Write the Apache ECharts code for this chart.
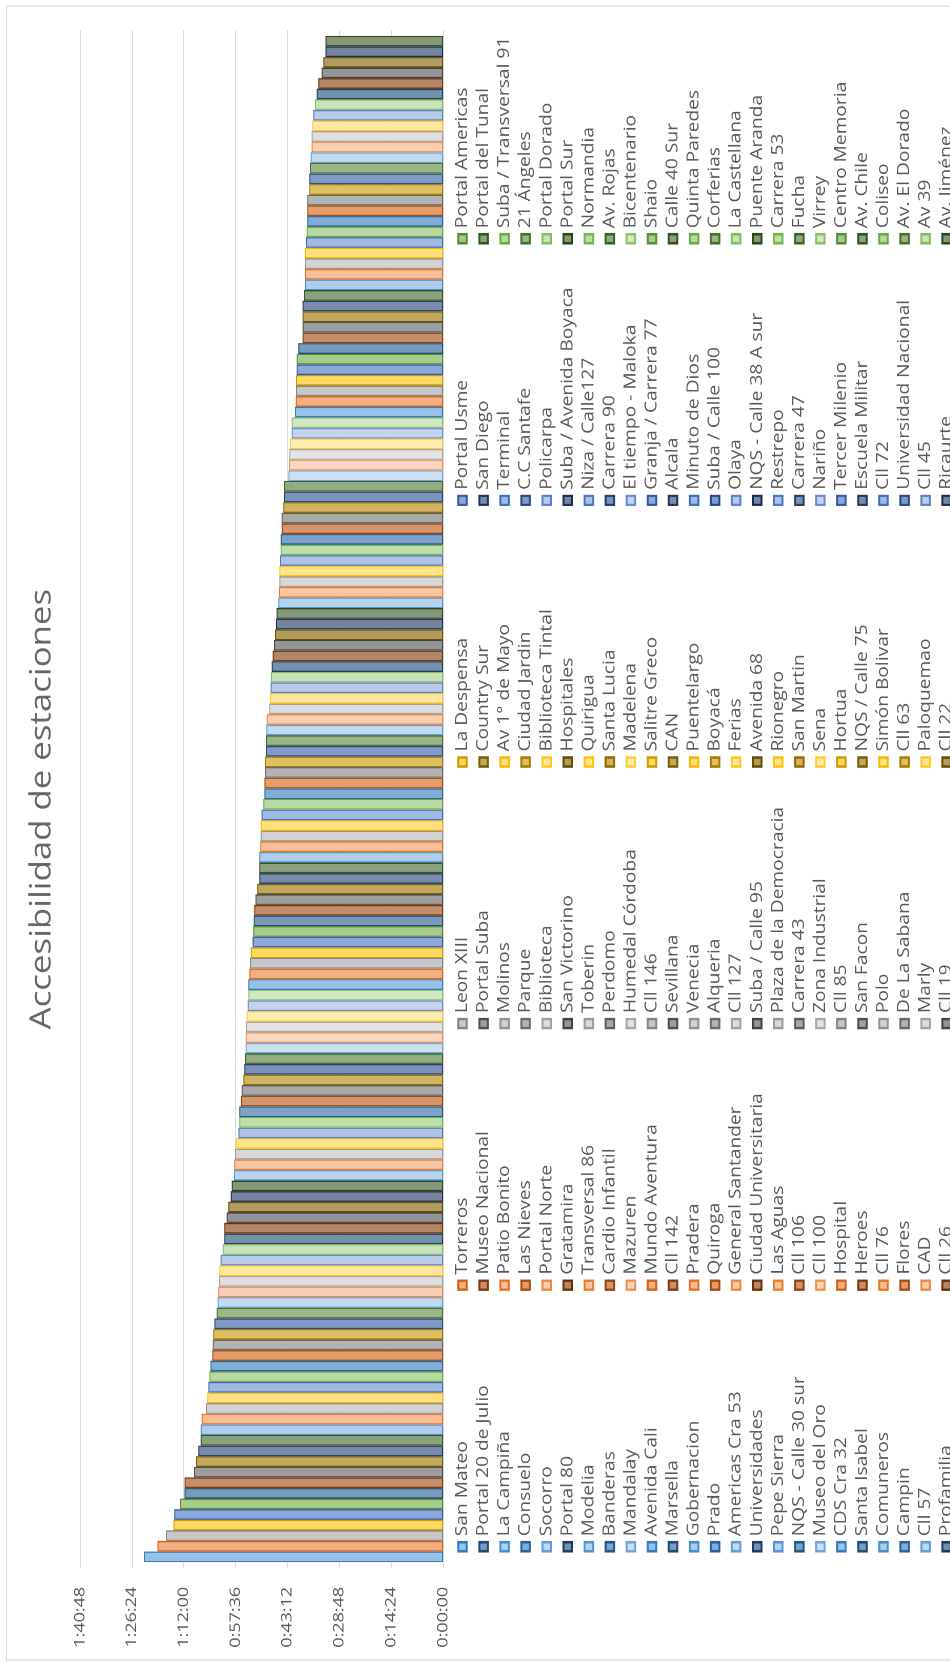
<!DOCTYPE html>
<html>
<head>
<meta charset="utf-8">
<script src="https://cdn.jsdelivr.net/npm/echarts@6/dist/echarts.min.js"></script>
<style>
  html, body { margin: 0; padding: 0; background: #fff; width: 950px; height: 1666px; overflow: hidden; }
  /* The column chart is laid out landscape, then turned a quarter turn so the
     title reads bottom-to-top along the left edge; the long side is stretched 1.2x. */
  #chart {
    position: absolute; left: 0; top: 0;
    width: 1388px; height: 950px;
    transform-origin: 0 0;
    transform: translateY(1666px) rotate(-90deg) scaleX(1.2);
  }
</style>
</head>
<body>
<div id="chart"></div>
<script>
// Legend columns (each column is read top to bottom; series order is row by row).
const legendCol1 = ['San Mateo','Portal 20 de Julio','La Campiña','Consuelo','Socorro','Portal 80','Modelia','Banderas','Mandalay','Avenida Cali','Marsella','Gobernacion','Prado','Americas Cra 53','Universidades','Pepe Sierra','NQS - Calle 30 sur','Museo del Oro','CDS Cra 32','Santa Isabel','Comuneros','Campin','Cll 57','Profamilia'];
const legendCol2 = ['Torreros','Museo Nacional','Patio Bonito','Las Nieves','Portal Norte','Gratamira','Transversal 86','Cardio Infantil','Mazuren','Mundo Aventura','Cll 142','Pradera','Quiroga','General Santander','Ciudad Universitaria','Las Aguas','Cll 106','Cll 100','Hospital','Heroes','Cll 76','Flores','CAD','Cll 26'];
const legendCol3 = ['Leon XIII','Portal Suba','Molinos','Parque','Biblioteca','San Victorino','Toberin','Perdomo','Humedal Córdoba','Cll 146','Sevillana','Venecia','Alqueria','Cll 127','Suba / Calle 95','Plaza de la Democracia','Carrera 43','Zona Industrial','Cll 85','San Facon','Polo','De La Sabana','Marly','Cll 19'];
const legendCol4 = ['La Despensa','Country Sur','Av 1° de Mayo','Ciudad Jardin','Biblioteca Tintal','Hospitales','Quirigua','Santa Lucia','Madelena','Salitre Greco','CAN','Puentelargo','Boyacá','Ferias','Avenida 68','Rionegro','San Martin','Sena','Hortua','NQS / Calle 75','Simón Bolivar','Cll 63','Paloquemao','Cll 22'];
const legendCol5 = ['Portal Usme','San Diego','Terminal','C.C Santafe','Policarpa','Suba / Avenida Boyaca','Niza / Calle127','Carrera 90','El tiempo - Maloka','Granja / Carrera 77','Alcala','Minuto de Dios','Suba / Calle 100','Olaya','NQS - Calle 38 A sur','Restrepo','Carrera 47','Nariño','Tercer Milenio','Escuela Militar','Cll 72','Universidad Nacional','Cll 45','Ricaurte'];
const legendCol6 = ['Portal Americas','Portal del Tunal','Suba / Transversal 91','21 Ángeles','Portal Dorado','Portal Sur','Normandia','Av. Rojas','Bicentenario','Shaio','Calle 40 Sur','Quinta Paredes','Corferias','La Castellana','Puente Aranda','Carrera 53','Fucha','Virrey','Centro Memoria','Av. Chile','Coliseo','Av. El Dorado','Av 39','Av. Jiménez'];

// Access time per station in seconds, in series order (San Mateo first).
const accessSeconds = [
  4982,4757,4615,4490,4477,4382,4307,4305,4149,4115,
  4077,4037,4037,4020,3949,3927,3910,3890,3874,3844,
  3837,3827,3810,3770,3754,3744,3732,3727,3704,3670,
  3644,3644,3604,3577,3537,3520,3482,3477,3465,3444,
  3410,3394,3394,3366,3354,3327,3311,3299,3287,3287,
  3282,3271,3254,3244,3244,3227,3216,3204,3171,3161,
  3154,3144,3124,3094,3061,3061,3061,3044,3037,3037,
  3021,2994,2977,2977,2966,2966,2949,2949,2944,2937,
  2894,2882,2871,2866,2854,2837,2816,2799,2782,2771,
  2744,2732,2727,2727,2716,2704,2704,2687,2687,2661,
  2649,2649,2577,2566,2561,2549,2521,2521,2466,2454,
  2449,2449,2437,2437,2411,2338,2338,2338,2338,2316,
  2299,2299,2299,2299,2283,2271,2261,2261,2261,2228,
  2228,2216,2204,2188,2188,2178,2161,2133,2104,2078,
  2021,1994,1958,1958
];

// Value axis: 0:00:00 to 1:40:48 in steps of 0:14:24 (seconds).
const axisMin = 0;
const axisMax = 6048;
const axisStep = 864;

const chartTitle = 'Accesibilidad de estaciones';

const legendCols = [legendCol1, legendCol2, legendCol3, legendCol4, legendCol5, legendCol6];
// Series order: legend row by row, six per row.
const stations = [];
for (let r = 0; r < legendCol1.length; r++) {
  for (let c = 0; c < legendCols.length; c++) stations.push(legendCols[c][r]);
}

// Office theme accents and the luminance variations used for series beyond six.
const accents = ['#5B9BD5', '#ED7D31', '#A5A5A5', '#FFC000', '#4472C4', '#70AD47'];
const variations = [[1,0],[0.6,0],[0.8,0.2],[0.8,0],[0.6,0.4],[0.5,0],[0.7,0.3],[0.7,0],[0.5,0.5]];

function hexToRgb(hex) {
  const n = parseInt(hex.slice(1), 16);
  return [(n >> 16) & 255, (n >> 8) & 255, n & 255];
}
function rgbToHex(r, g, b) {
  return '#' + [r, g, b].map(v => Math.max(0, Math.min(255, Math.round(v))).toString(16).padStart(2, '0')).join('');
}
function rgbToHsl(r, g, b) {
  r /= 255; g /= 255; b /= 255;
  const max = Math.max(r, g, b), min = Math.min(r, g, b);
  let h = 0, s = 0; const l = (max + min) / 2;
  if (max !== min) {
    const d = max - min;
    s = l > 0.5 ? d / (2 - max - min) : d / (max + min);
    if (max === r) h = (g - b) / d + (g < b ? 6 : 0);
    else if (max === g) h = (b - r) / d + 2;
    else h = (r - g) / d + 4;
    h /= 6;
  }
  return [h, s, l];
}
function hslToRgb(h, s, l) {
  if (s === 0) return [l * 255, l * 255, l * 255];
  const hue = (p, q, t) => {
    if (t < 0) t += 1; if (t > 1) t -= 1;
    if (t < 1/6) return p + (q - p) * 6 * t;
    if (t < 1/2) return q;
    if (t < 2/3) return p + (q - p) * (2/3 - t) * 6;
    return p;
  };
  const q = l < 0.5 ? l * (1 + s) : l + s - l * s;
  const p = 2 * l - q;
  return [hue(p, q, h + 1/3) * 255, hue(p, q, h) * 255, hue(p, q, h - 1/3) * 255];
}
function lumMod(hex, mod, off) {
  const [h, s, l] = rgbToHsl(...hexToRgb(hex));
  return rgbToHex(...hslToRgb(h, s, Math.min(1, l * mod + off)));
}
function towardWhite(hex, t) {
  const [r, g, b] = hexToRgb(hex);
  return rgbToHex(r + (255 - r) * t, g + (255 - g) * t, b + (255 - b) * t);
}

function formatClock(sec) {
  const h = Math.floor(sec / 3600);
  const m = Math.floor((sec % 3600) / 60);
  const s = Math.round(sec % 60);
  return h + ':' + String(m).padStart(2, '0') + ':' + String(s).padStart(2, '0');
}

const textColor = '#595959';
const titleColor = '#666666';
const gridColor = '#D9D9D9';
const font = "'Open Sans', 'Liberation Sans', sans-serif";

const series = stations.map((name, i) => {
  const v = variations[Math.floor(i / 6) % variations.length];
  const base = lumMod(accents[i % 6], v[0], v[1]);
  return {
    type: 'bar',
    name: name,
    data: [accessSeconds[i]],
    barGap: '0%',
    barCategoryGap: '0.7%',
    itemStyle: {
      color: towardWhite(base, 0.38),
      borderColor: lumMod(base, 0.8, 0),
      borderWidth: 1
    },
    emphasis: { disabled: true },
    animation: false
  };
});

const legendLeft0 = 94.6;
const legendPitch = 218;
const legends = legendCols.map((col, k) => ({
  data: col,
  orient: 'vertical',
  left: legendLeft0 + k * legendPitch,
  top: 452,
  height: 540,
  padding: 0,
  itemWidth: 7.5,
  itemHeight: 8.5,
  itemGap: 0,
  icon: 'rect',
  selectedMode: false,
  textStyle: { fontFamily: font, fontSize: 16, color: textColor, lineHeight: 21.05 }
}));

// Centre the title on its measured width.
const titleFontSize = 29;
const titleCenterX = 714;
const measureCtx = document.createElement('canvas').getContext('2d');
measureCtx.font = titleFontSize + 'px ' + font;
const titleWidth = measureCtx.measureText(chartTitle).width;

const chart = echarts.init(document.getElementById('chart'), null, { devicePixelRatio: 2 });
chart.setOption({
  animation: false,
  backgroundColor: '#ffffff',
  title: {
    text: chartTitle,
    left: titleCenterX - titleWidth / 2,
    top: 27,
    padding: 0,
    textStyle: { fontFamily: font, fontSize: titleFontSize, fontWeight: 'normal', color: titleColor, lineHeight: 30 }
  },
  graphic: [{
    type: 'rect',
    z: -1,
    shape: { x: 5, y: 6.5, width: 1378.3, height: 1000 },
    style: { fill: 'none', stroke: gridColor, lineWidth: 1 },
    silent: true
  }],
  legend: legends,
  grid: { left: 82, right: 25, top: 80, bottom: 507 },
  xAxis: {
    type: 'category',
    data: [''],
    axisLine: { lineStyle: { color: gridColor } },
    axisTick: { show: false },
    axisLabel: { show: false }
  },
  yAxis: {
    type: 'value',
    min: axisMin,
    max: axisMax,
    interval: axisStep,
    axisLine: { show: false },
    axisTick: { show: false },
    axisLabel: { formatter: formatClock, margin: 16, color: textColor, fontFamily: font, fontSize: 15 },
    splitLine: { lineStyle: { color: gridColor, width: 1 } }
  },
  series: series
});
</script>
</body>
</html>
